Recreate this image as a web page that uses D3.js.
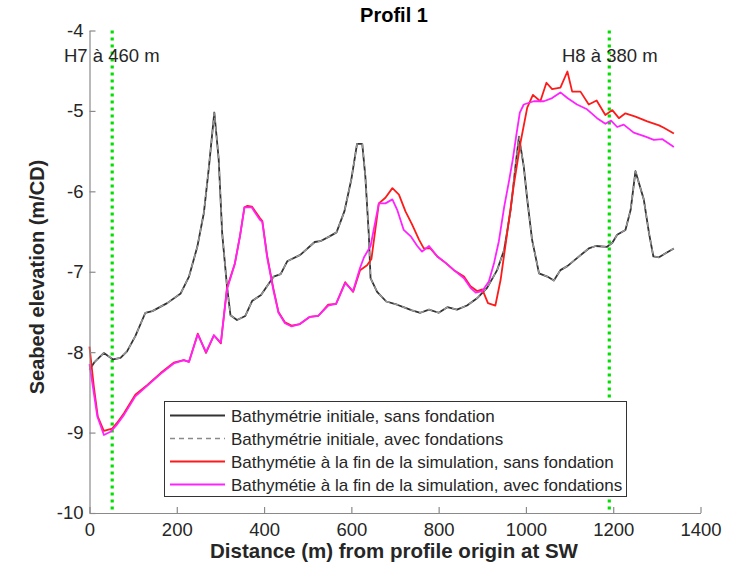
<!DOCTYPE html>
<html>
<head>
<meta charset="utf-8">
<script src="https://cdn.jsdelivr.net/npm/d3@7"></script>
<style>
  html, body { margin: 0; padding: 0; background: #fff; }
  svg { display: block; font-family: "Liberation Sans", Arial, Helvetica, sans-serif; }
</style>
</head>
<body>
<svg id="chart" width="751" height="576"></svg>
<script>
// ---- Data ----
const xTicks = [0, 200, 400, 600, 800, 1000, 1200, 1400];
const yTicks = [-10, -9, -8, -7, -6, -5, -4];

const initDist = [0, 12, 33, 54, 71, 86, 105, 128, 144, 178, 209, 228, 247, 262, 273, 286, 296, 304, 315, 323, 338, 357, 373, 393, 422, 438, 453, 483, 516, 529, 550, 566, 584, 600, 613, 625, 632, 640, 644, 659, 680, 705, 724, 739, 758, 778, 800, 820, 842, 865, 888, 911, 934, 950, 965, 976, 984, 995, 1003, 1014, 1030, 1049, 1064, 1079, 1095, 1117, 1144, 1160, 1186, 1198, 1209, 1228, 1240, 1251, 1270, 1282, 1292, 1305, 1320, 1339];
const initElev = [-8.22, -8.12, -8.01, -8.09, -8.07, -7.99, -7.8, -7.51, -7.49, -7.39, -7.27, -7.06, -6.69, -6.27, -5.73, -5.02, -5.6, -6.52, -7.18, -7.54, -7.6, -7.55, -7.36, -7.29, -7.06, -7.03, -6.87, -6.79, -6.63, -6.62, -6.56, -6.51, -6.25, -5.85, -5.41, -5.41, -5.81, -6.54, -7.08, -7.25, -7.37, -7.41, -7.45, -7.48, -7.51, -7.47, -7.51, -7.44, -7.47, -7.42, -7.33, -7.2, -6.98, -6.73, -6.23, -5.69, -5.32, -5.69, -6.1, -6.6, -7.02, -7.06, -7.11, -6.98, -6.93, -6.83, -6.71, -6.68, -6.69, -6.64, -6.54, -6.48, -6.23, -5.75, -6.1, -6.52, -6.81, -6.82, -6.77, -6.71];

const redDist = [0, 10, 19, 33, 52, 63, 79, 105, 132, 163, 193, 216, 228, 248, 267, 285, 301, 315, 333, 345, 355, 362, 372, 380, 390, 396, 407, 421, 433, 448, 463, 482, 505, 524, 547, 565, 586, 604, 620, 636, 646, 663, 678, 694, 709, 724, 739, 755, 766, 781, 797, 816, 835, 858, 873, 888, 900, 913, 930, 942, 957, 972, 988, 1003, 1016, 1033, 1047, 1060, 1079, 1095, 1106, 1125, 1144, 1162, 1182, 1198, 1213, 1228, 1251, 1278, 1305, 1316, 1339];
const redElev = [-7.93, -8.43, -8.8, -8.98, -8.95, -8.88, -8.76, -8.53, -8.41, -8.26, -8.13, -8.1, -8.12, -7.77, -8.01, -7.79, -7.89, -7.2, -6.9, -6.55, -6.2, -6.18, -6.19, -6.25, -6.33, -6.37, -6.8, -7.2, -7.5, -7.63, -7.67, -7.65, -7.56, -7.55, -7.41, -7.4, -7.13, -7.25, -6.98, -6.92, -6.84, -6.15, -6.08, -5.96, -6.04, -6.25, -6.41, -6.6, -6.71, -6.71, -6.81, -6.89, -6.98, -7.06, -7.18, -7.24, -7.22, -7.39, -7.42, -7.1, -6.52, -5.93, -5.38, -4.96, -4.8, -4.88, -4.65, -4.73, -4.71, -4.51, -4.76, -4.76, -4.92, -4.87, -5.05, -4.99, -5.09, -5.03, -5.07, -5.13, -5.18, -5.21, -5.28];

const magDist = [0, 18, 33, 48, 63, 79, 105, 132, 163, 193, 216, 228, 248, 267, 285, 301, 315, 333, 345, 355, 362, 372, 380, 390, 396, 407, 421, 433, 448, 463, 482, 505, 524, 547, 565, 586, 604, 620, 629, 644, 663, 678, 694, 705, 720, 736, 751, 762, 778, 797, 816, 835, 858, 873, 885, 900, 915, 927, 938, 950, 961, 970, 978, 986, 995, 1018, 1041, 1060, 1079, 1095, 1117, 1140, 1163, 1182, 1195, 1209, 1224, 1247, 1274, 1293, 1312, 1339];
const magElev = [-8.15, -8.8, -9.03, -8.99, -8.9, -8.78, -8.55, -8.42, -8.27, -8.14, -8.1, -8.12, -7.78, -8.0, -7.79, -7.88, -7.22, -6.9, -6.55, -6.2, -6.2, -6.2, -6.27, -6.35, -6.38, -6.82, -7.22, -7.51, -7.64, -7.68, -7.65, -7.56, -7.55, -7.42, -7.4, -7.14, -7.24, -6.95, -6.82, -6.68, -6.15, -6.15, -6.1, -6.23, -6.48, -6.56, -6.68, -6.75, -6.68, -6.81, -6.89, -6.98, -7.08, -7.2, -7.26, -7.24, -7.12, -6.89, -6.62, -6.2, -5.88, -5.6, -5.3, -5.02, -4.92, -4.88, -4.88, -4.84, -4.77, -4.84, -4.92, -4.98, -5.09, -5.16, -5.12, -5.2, -5.17, -5.27, -5.32, -5.36, -5.35, -5.45];

const markerDist = [52, 1191];
const markerLabels = ["H7 à 460 m", "H8 à 380 m"];

const legendLabels = [
  "Bathymétrie initiale, sans fondation",
  "Bathymétrie initiale, avec fondations",
  "Bathymétie à la fin de la simulation, sans fondation",
  "Bathymétie à la fin de la simulation, avec fondations"
];

(function () {
// ---- Layout ----
const svg = d3.select("#chart");
const pLeft = 89.5, pRight = 700.5, pTop = 30.5, pBottom = 513;

const x = d3.scaleLinear().domain([0, 1400]).range([pLeft, pRight]);
const y = d3.scaleLinear().domain([-10, -4]).range([pBottom, pTop]);

const axisColor = "#8a8a8a";
const textColor = "#262626";
const plain = d => String(d);

// green marker lines
svg.append("g").selectAll("line").data(markerDist).join("line")
  .attr("x1", d => x(d)).attr("x2", d => x(d))
  .attr("y1", pTop).attr("y2", pBottom)
  .attr("stroke", "#00e000").attr("stroke-width", 3.2)
  .attr("stroke-dasharray", "3,4");

const line = (xs, ys) => d3.line().x((d, i) => x(xs[i])).y((d, i) => y(ys[i]))(ys);

// initial bathymetry (solid + dashed overlay)
svg.append("path").attr("d", line(initDist, initElev))
  .attr("fill", "none").attr("stroke", "#333").attr("stroke-width", 1.8).attr("stroke-linejoin", "round");
svg.append("path").attr("d", line(initDist, initElev))
  .attr("fill", "none").attr("stroke", "#9a9a9a").attr("stroke-width", 1.4)
  .attr("stroke-dasharray", "5,4");

// end of simulation
svg.append("path").attr("d", line(redDist, redElev))
  .attr("fill", "none").attr("stroke", "#ff1a1a").attr("stroke-width", 1.8).attr("stroke-linejoin", "round");
svg.append("path").attr("d", line(magDist, magElev))
  .attr("fill", "none").attr("stroke", "#ff22ff").attr("stroke-width", 1.8).attr("stroke-linejoin", "round");

// axes
const xAxis = svg.append("g").attr("transform", `translate(0,${pBottom})`)
  .call(d3.axisBottom(x).tickValues(xTicks).tickFormat(plain).tickSize(-6).tickSizeOuter(0).tickPadding(10));
const yAxis = svg.append("g").attr("transform", `translate(${pLeft},0)`)
  .call(d3.axisLeft(y).tickValues(yTicks).tickFormat(plain).tickSize(-6).tickSizeOuter(0).tickPadding(6));
[xAxis, yAxis].forEach(g => {
  g.select(".domain").attr("stroke", axisColor).attr("stroke-width", 1.2);
  g.selectAll(".tick line").attr("stroke", axisColor).attr("stroke-width", 1.2);
  g.selectAll(".tick text").attr("fill", textColor)
    .style("font-size", "18.5px").style("font-family", "'Liberation Sans', Arial, sans-serif");
});

// marker labels
svg.append("text").attr("x", 64).attr("y", 62).text(markerLabels[0])
  .attr("fill", textColor).style("font-size", "18.5px");
svg.append("text").attr("x", 562).attr("y", 62).text(markerLabels[1])
  .attr("fill", textColor).style("font-size", "18.5px");

// title & axis labels
svg.append("text").attr("x", 394).attr("y", 22).attr("text-anchor", "middle")
  .style("font-size", "20px").style("font-weight", "bold").attr("fill", "#000").text("Profil 1");
svg.append("text").attr("x", 394).attr("y", 558).attr("text-anchor", "middle")
  .style("font-size", "20.5px").style("font-weight", "bold").attr("fill", textColor)
  .text("Distance (m) from profile origin at SW");
svg.append("text").attr("transform", "translate(44,277) rotate(-90)").attr("text-anchor", "middle")
  .style("font-size", "20px").style("font-weight", "bold").attr("fill", textColor)
  .text("Seabed elevation (m/CD)");

// legend
const lg = svg.append("g");
lg.append("rect").attr("x", 164.5).attr("y", 401.5).attr("width", 462).attr("height", 95)
  .attr("fill", "#fff").attr("stroke", "#333").attr("stroke-width", 1);
const legendStyles = [
  { c: "#333", dash: null, w: 1.8 },
  { c: "#8a8a8a", dash: "5,4", w: 1.4 },
  { c: "#ff1a1a", dash: null, w: 1.8 },
  { c: "#ff22ff", dash: null, w: 1.8 }
];
const rowY = d3.scaleLinear().domain([0, 3]).range([415.5, 484.5]);
legendLabels.forEach((lab, i) => {
  const yy = rowY(i);
  lg.append("line").attr("x1", 170).attr("x2", 225).attr("y1", yy).attr("y2", yy)
    .attr("stroke", legendStyles[i].c).attr("stroke-width", legendStyles[i].w)
    .attr("stroke-dasharray", legendStyles[i].dash);
  lg.append("text").attr("x", 231).attr("y", yy + 6).text(lab)
    .attr("fill", textColor).style("font-size", "17px");
});
})();
</script>
</body>
</html>
